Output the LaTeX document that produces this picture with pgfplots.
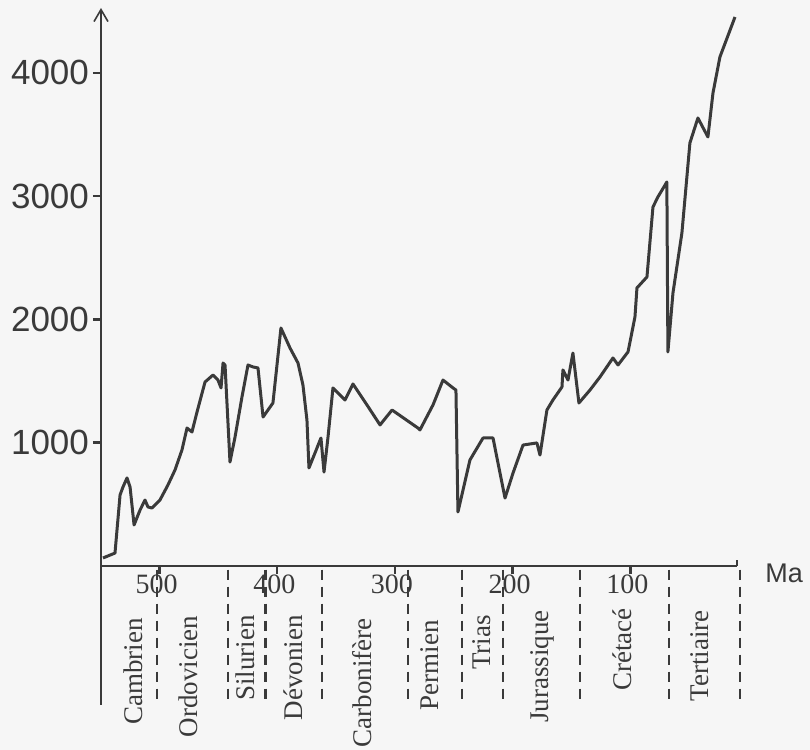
\documentclass[border=0pt]{standalone}
\usepackage{fontspec}
\setmainfont{Liberation Serif}
\newfontfamily\sansf{Liberation Sans}
\usepackage{pgfplots}
\pgfplotsset{compat=1.18}
\usetikzlibrary{arrows.meta}
\definecolor{ink}{HTML}{3A3A3A}
\definecolor{paper}{HTML}{F6F6F6}

\pgfplotstableread{
t v
548.1 65
537.9 105
533.6 576
531.1 641
527.7 714
525.1 641
521.7 333
516.6 454
512.4 535
509.9 479
506.5 470
499.7 535
492.9 657
486.9 779
481.0 941
476.7 1119
472.5 1087
468.2 1249
461.4 1492
454.6 1549
450.4 1508
447.8 1444
446.1 1646
444.4 1630
440.2 843
435.9 1046
430.0 1371
424.9 1630
420.6 1614
416.4 1606
412.1 1208
403.7 1322
396.9 1930
389.2 1768
382.4 1646
378.2 1468
374.8 1184
373.1 795
368.0 916
362.9 1038
360.3 762
356.9 1046
352.7 1444
342.5 1346
335.7 1476
323.8 1306
312.7 1144
302.5 1265
280.5 1119
278.8 1103
267.7 1306
259.2 1508
250.7 1444
248.2 1427
246.5 438
236.3 860
225.2 1038
216.7 1038
206.5 551
199.7 754
191.2 981
179.4 998
176.8 900
170.9 1265
165.8 1346
158.1 1452
157.3 1590
153.0 1508
148.8 1727
143.7 1322
134.3 1427
125.8 1533
114.8 1687
110.5 1630
102.0 1736
96.1 2019
94.4 2255
85.9 2344
80.8 2911
76.6 2993
69.0 3114
68.1 1736
63.8 2214
56.2 2701
49.4 3431
42.6 3633
34.1 3479
29.8 3836
23.9 4128
11.1 4452
}\biodiv

\begin{document}
\begin{tikzpicture}
\fill[paper] (-50.5pt,-92pt) rectangle (354.5pt,283pt);
\useasboundingbox (-50.5pt,-92pt) rectangle (354.5pt,283pt);
\begin{axis}[
  at={(0pt,0pt)}, anchor=south west,
  scale only axis, width=318pt, height=279pt,
  xmin=9.4, xmax=549.8, ymin=0, ymax=4525,
  x dir=reverse,
  axis x line*=bottom, axis y line*=left,
  axis line style={ink, line width=1.4pt},
  y axis line style={-{Straight Barb[length=6pt,width=7pt,line width=0.8pt]}},
  xtick={100,200,300,400,500},
  ytick={1000,2000,3000,4000},
  tick align=outside,
  major tick length=4pt,
  tick style={ink, line width=1.2pt},
  /pgf/number format/assume math mode=true,
  /pgf/number format/1000 sep={},
  yticklabel style={font=\sansf\fontsize{17.5}{20}\selectfont, text=ink, xshift=1.5pt},
  xticklabel style={font=\fontsize{14}{16}\selectfont, text=ink, yshift=3pt, xshift=-1.5pt},
  clip=false,
]
\addplot[ink, line width=1.5pt, line join=round] table[x=t, y=v] {\biodiv};

% lower continuation of the y axis and end mark of the x axis
\draw[ink, line width=1.4pt] (axis cs:549.8,0) -- (axis cs:549.8,-1127);
\draw[ink, line width=1.4pt] (axis cs:9.4,0) -- (axis cs:9.4,50);

% period boundaries
\pgfplotsinvokeforeach{502,442,410,362,289,243,208,143,67,7}{
  \draw[ink, line width=1.2pt, dash pattern=on 5pt off 3.5pt] (axis cs:#1,-30) -- (axis cs:#1,-1115);
}

% period names
\begin{scope}[every node/.style={rotate=90, anchor=east, inner sep=0pt, text=ink, font=\fontsize{13.5}{16}\selectfont}]
\node at (axis cs:522.6,-422) {Cambrien};
\node at (axis cs:475.9,-400) {Ordovicien};
\node at (axis cs:427.4,-397) {Silurien};
\node at (axis cs:386.7,-397) {Dévonien};
\node at (axis cs:328.0,-422) {Carbonifère};
\node at (axis cs:270.3,-438) {Permien};
\node at (axis cs:226.1,-397) {Trias};
\node at (axis cs:175.1,-357) {Jurassique};
\node at (axis cs:107.1,-341) {Crétacé};
\node at (axis cs:40.9,-357) {Tertiaire};
\end{scope}

\node[anchor=west, inner sep=0pt, text=ink, font=\sansf\fontsize{13.5}{16}\selectfont] at (axis cs:-14.4,-57) {Ma};
\end{axis}
\end{tikzpicture}
\end{document}
